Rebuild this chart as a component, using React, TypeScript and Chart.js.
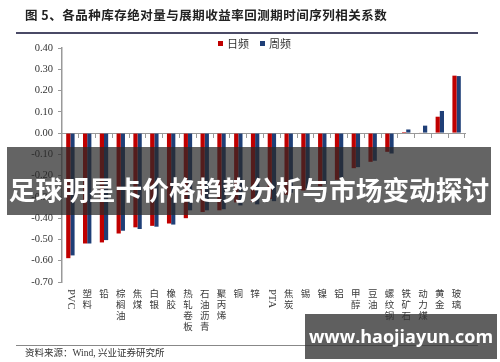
import React, { useEffect, useRef } from "react";
import { Chart, registerables } from "chart.js";

Chart.register(...registerables);

const categories = [
  "PVC", "塑料", "铅", "棕榈油", "焦煤", "白银", "橡胶", "热轧卷板", "石油沥青", "聚丙烯", "铜", "锌",
  "PTA", "焦炭", "锡", "镍", "铝", "甲醇", "豆油", "螺纹钢", "铁矿石", "动力煤", "黄金", "玻璃",
];
const dailyValues = [
  -0.588, -0.519, -0.514, -0.472, -0.443, -0.436, -0.425, -0.4, -0.371, -0.363, -0.326, -0.324,
  -0.31, -0.29, -0.27, -0.25, -0.22, -0.165, -0.135, -0.088, 0.005, 0.002, 0.077, 0.27,
];
const weeklyValues = [
  -0.575, -0.519, -0.503, -0.459, -0.451, -0.44, -0.43, -0.363, -0.363, -0.358, -0.34, -0.335,
  -0.32, -0.28, -0.26, -0.24, -0.21, -0.16, -0.13, -0.096, 0.017, 0.035, 0.104, 0.268,
];
const seriesNames = ["日频", "周频"];
const seriesColors = ["#C00000", "#1F3F77"];
const yMin = -0.7;
const yMax = 0.4;
const yStep = 0.1;

const titleText = "图 5、各品种库存绝对量与展期收益率回测期时间序列相关系数";
const sourceText = "资料来源：Wind, 兴业证券研究所";
const bannerText = "足球明星卡价格趋势分析与市场变动探讨";
const watermarkText = "www.haojiayun.com";

const xLabelPlugin = {
  id: "xLabels",
  afterDraw(chart: any) {
    const ctx = chart.ctx;
    const xs = chart.scales.x;
    const top = chart.chartArea.bottom + 7;
    ctx.save();
    ctx.fillStyle = "#3a3a3a";
    categories.forEach((lab, i) => {
      const x = xs.getPixelForValue(i);
      if (/^[A-Za-z]+$/.test(lab)) {
        ctx.save();
        ctx.translate(x, top);
        ctx.rotate(Math.PI / 2);
        ctx.font = "10.5px 'Liberation Serif'";
        ctx.textAlign = "left";
        ctx.textBaseline = "middle";
        ctx.fillText(lab, 0, 0);
        ctx.restore();
      } else {
        ctx.font = "9.5px 'Noto Sans CJK SC'";
        ctx.textAlign = "center";
        ctx.textBaseline = "top";
        Array.from(lab).forEach((ch, k) => ctx.fillText(ch, x, top + k * 11));
      }
    });
    ctx.restore();
  },
};

export default function App() {
  const ref = useRef<HTMLCanvasElement | null>(null);
  useEffect(() => {
    if (!ref.current) return;
    const chart = new Chart(ref.current, {
      type: "bar",
      data: {
        labels: categories,
        datasets: [
          { label: seriesNames[0], data: dailyValues, backgroundColor: seriesColors[0], categoryPercentage: 0.5, barPercentage: 1 },
          { label: seriesNames[1], data: weeklyValues, backgroundColor: seriesColors[1], categoryPercentage: 0.5, barPercentage: 1 },
        ],
      },
      options: {
        responsive: false,
        maintainAspectRatio: false,
        animation: false,
        layout: { padding: { top: 48, bottom: 80, left: 0, right: 35 } },
        plugins: { legend: { display: false }, tooltip: { enabled: false } },
        scales: {
          x: {
            position: { y: 0 } as any,
            grid: { display: true, drawOnChartArea: false, drawTicks: true, tickLength: 4, color: "#999", offset: true },
            border: { display: true, color: "#999", width: 1 },
            ticks: { display: false },
          },
          y: {
            min: yMin,
            max: yMax,
            afterFit(scale: any) {
              scale.width = 62;
            },
            ticks: {
              stepSize: yStep,
              padding: 5,
              color: "#333",
              font: { family: "'Liberation Serif'", size: 10.5 },
              callback: (v: any) => Number(v).toFixed(2),
            },
            grid: { display: true, drawOnChartArea: false, drawTicks: true, tickLength: 4, color: "#999" },
            border: { display: true, color: "#999", width: 1.5 },
          },
        },
      },
      plugins: [xLabelPlugin],
    });
    return () => chart.destroy();
  }, []);

  const abs: React.CSSProperties = { position: "absolute" };
  return (
    <div style={{ position: "fixed", left: 0, top: 0, width: 500, height: 362, background: "#fff", overflow: "hidden" }}>
      <canvas ref={ref} width={500} height={362} style={{ ...abs, left: 0, top: 0, width: 500, height: 362 }} />
      <div style={{ ...abs, left: 25, top: 6, fontFamily: "'Noto Sans CJK SC'", fontWeight: 700, fontSize: 12.5, letterSpacing: 0.5, color: "#222", whiteSpace: "nowrap", lineHeight: "18px" }}>
        {titleText}
      </div>
      <div style={{ ...abs, left: 16, top: 32, width: 462, height: 2, background: "#4a4a66" }} />
      <div style={{ ...abs, left: 218, top: 40.5, width: 5, height: 5, background: seriesColors[0] }} />
      <div style={{ ...abs, left: 227, top: 35, fontFamily: "'Noto Sans CJK SC'", fontSize: 11, color: "#333", lineHeight: "16px", whiteSpace: "nowrap" }}>{seriesNames[0]}</div>
      <div style={{ ...abs, left: 260, top: 40.5, width: 5, height: 5, background: seriesColors[1] }} />
      <div style={{ ...abs, left: 269, top: 35, fontFamily: "'Noto Sans CJK SC'", fontSize: 11, color: "#333", lineHeight: "16px", whiteSpace: "nowrap" }}>{seriesNames[1]}</div>
      <div style={{ ...abs, left: 16, top: 345, width: 462, height: 1, background: "#888" }} />
      <div style={{ ...abs, left: 25, top: 346, fontFamily: "'Liberation Serif','Noto Sans CJK SC'", fontSize: 9.5, color: "#333", lineHeight: "14px", whiteSpace: "nowrap" }}>{sourceText}</div>
      <div style={{ ...abs, left: 7, top: 147, width: 484, height: 68, background: "rgba(40,40,40,0.72)" }}>
        <div style={{ position: "absolute", left: 0, top: 24, width: 484, textAlign: "center", color: "#fff", fontFamily: "'Noto Sans CJK SC'", fontWeight: 700, fontSize: 26.7, lineHeight: "36px", whiteSpace: "nowrap" }}>
          {bannerText}
        </div>
      </div>
      <div style={{ ...abs, left: 305, top: 314, width: 192, height: 45, background: "rgba(50,50,50,0.78)" }}>
        <div style={{ position: "absolute", left: 0, top: 10, width: 192, textAlign: "center", color: "#fff", fontFamily: "'Open Sans'", fontWeight: 700, fontSize: 18, lineHeight: "24px", whiteSpace: "nowrap" }}>
          {watermarkText}
        </div>
      </div>
    </div>
  );
}
